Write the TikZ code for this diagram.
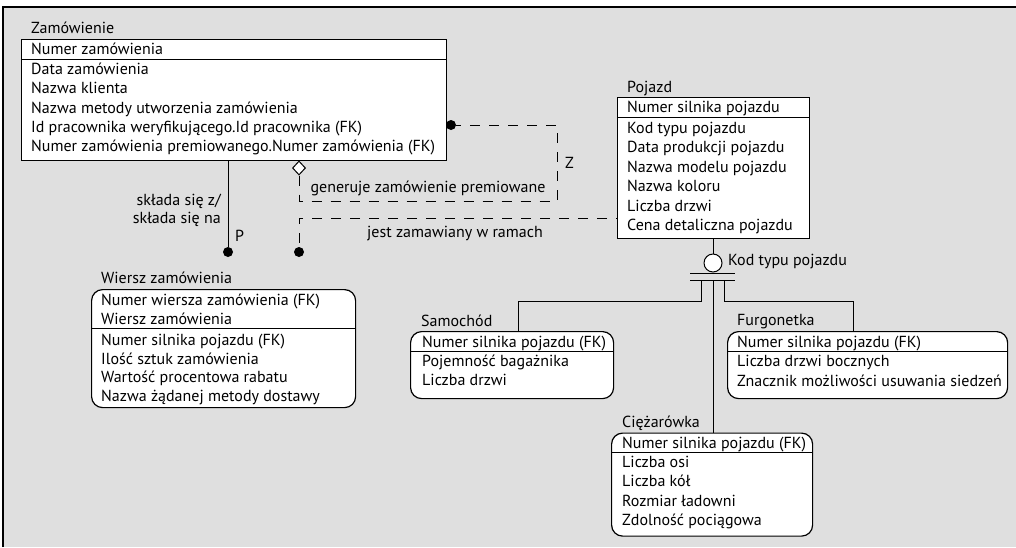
\documentclass[tikz,border=0pt]{standalone}
\usepackage{fontspec}
\setmainfont{PT Sans}
\usetikzlibrary{shapes.geometric}
\definecolor{bg}{RGB}{223,223,223}
\newcommand\erfont{\fontsize{16}{19}\selectfont}
\begin{document}
\begin{tikzpicture}[x=1pt,y=-1pt,
  txt/.style={anchor=base west, inner sep=0pt, font=\erfont},
  lbl/.style={inner sep=0pt, font=\erfont},
  entity/.style={draw, line width=1.2pt, fill=white, anchor=north west, inner sep=0pt},
  rentity/.style={entity, rounded corners=11pt},
  sepline/.style={line width=1pt},
  conn/.style={line width=1pt},
  dconn/.style={line width=1pt, dash pattern=on 10pt off 9pt},
  dot/.style={circle, fill=black, inner sep=0pt, minimum size=10pt}
]
\useasboundingbox (0,0) rectangle (1016,547);
% frame
\fill[bg] (3,7) rectangle (1016,547);
\draw[line width=1.5pt] (3,547) -- (3,7) -- (1016,7);

% ---------- Zamowienie
\node[txt] (zamT) at (31,33.5) {Zamówienie};
\node[entity, minimum width=425pt, minimum height=121pt] (zam) at (21,39) {};
\draw[sepline] (zam.west |- 0,59) -- (zam.east |- 0,59);
\node[txt] (z1) at (31,54.5) {Numer zamówienia};
\node[txt] (z2) at (31,74) {Data zamówienia};
\node[txt] (z3) at (31,93.5) {Nazwa klienta};
\node[txt] (z4) at (31,113) {Nazwa metody utworzenia zamówienia};
\node[txt] (z5) at (31,132.5) {Id pracownika weryfikującego.Id pracownika (FK)};
\node[txt] (z6) at (31,151.5) {Numer zamówienia premiowanego.Numer zamówienia (FK)};

% ---------- Pojazd
\node[txt] (pojT) at (627,92) {Pojazd};
\node[entity, minimum width=192pt, minimum height=141pt] (poj) at (617,97) {};
\draw[sepline] (poj.west |- 0,117) -- (poj.east |- 0,117);
\node[txt] (p1) at (627,112.5) {Numer silnika pojazdu};
\node[txt] (p2) at (627,133.3) {Kod typu pojazdu};
\node[txt] (p3) at (627,152.7) {Data produkcji pojazdu};
\node[txt] (p4) at (627,172.3) {Nazwa modelu pojazdu};
\node[txt] (p5) at (627,191.7) {Nazwa koloru};
\node[txt] (p6) at (627,211) {Liczba drzwi};
\node[txt] (p7) at (627,230.7) {Cena detaliczna pojazdu};

% ---------- Wiersz zamowienia
\node[txt] (wT) at (101,283) {Wiersz zamówienia};
\node[rentity, minimum width=264pt, minimum height=118pt] (wie) at (91,289) {};
\draw[sepline] (wie.west |- 0,328) -- (wie.east |- 0,328);
\node[txt] (w1) at (101,305.7) {Numer wiersza zamówienia (FK)};
\node[txt] (w2) at (101,324.3) {Wiersz zamówienia};
\node[txt] (w3) at (101,345) {Numer silnika pojazdu (FK)};
\node[txt] (w4) at (101,364) {Ilość sztuk zamówienia};
\node[txt] (w5) at (101,382.7) {Wartość procentowa rabatu};
\node[txt] (w6) at (101,401.7) {Nazwa żądanej metody dostawy};

% ---------- Samochod
\node[txt] (sT) at (421,326) {Samochód};
\node[rentity, minimum width=203pt, minimum height=67pt] (sam) at (410,331) {};
\draw[sepline] (sam.west |- 0,351) -- (sam.east |- 0,351);
\node[txt] (s1) at (422,347) {Numer silnika pojazdu (FK)};
\node[txt] (s2) at (422,366.7) {Pojemność bagażnika};
\node[txt] (s3) at (422,385) {Liczba drzwi};

% ---------- Furgonetka
\node[txt] (fT) at (737,325.7) {Furgonetka};
\node[rentity, minimum width=280pt, minimum height=67pt] (fur) at (727,331) {};
\draw[sepline] (fur.west |- 0,351.5) -- (fur.east |- 0,351.5);
\node[txt] (f1) at (737,347.3) {Numer silnika pojazdu (FK)};
\node[txt] (f2) at (737,366.7) {Liczba drzwi bocznych};
\node[txt] (f3) at (737,386) {Znacznik możliwości usuwania siedzeń};

% ---------- Ciezarowka
\node[txt] (cT) at (622,427.7) {Ciężarówka};
\node[rentity, minimum width=201pt, minimum height=103pt] (cie) at (611,432.5) {};
\draw[sepline] (cie.west |- 0,452) -- (cie.east |- 0,452);
\node[txt] (c1) at (622,448) {Numer silnika pojazdu (FK)};
\node[txt] (c2) at (622,467.5) {Liczba osi};
\node[txt] (c3) at (622,486.7) {Liczba kół};
\node[txt] (c4) at (622,506) {Rozmiar ładowni};
\node[txt] (c5) at (622,525) {Zdolność pociągowa};

% ---------- relationship: sklada sie
\node[dot] (dP) at (228,252) {};
\draw[conn] (zam.south -| dP) -- (dP);
\node[lbl, anchor=base east] (lz1) at (221,205) {składa się z/};
\node[lbl, anchor=base east] (lz2) at (221,223) {składa się na};
\node[lbl, anchor=base west] (lP) at (235,241) {P};

% ---------- relationship: generuje zamowienie premiowane
\node[diamond, draw, fill=white, inner sep=0pt, minimum width=13pt, minimum height=14pt, line width=1pt] (dia) at (299,168) {};
\node[dot] (dZ) at (451,125) {};
\coordinate (g1) at (557,201);
\draw[dconn] (dia.south) |- (g1) |- (dZ);
\node[lbl, anchor=base] (lgen) at (428,192) {generuje zamówienie premiowane};
\node[lbl, anchor=base west] (lZ) at (565,168) {Z};

% ---------- relationship: jest zamawiany w ramach
\node[dot] (dJ) at (299,252) {};
\coordinate (j1) at (poj.west |- 0,218);
\draw[dconn, dash phase=9pt] (j1) -| (dJ);
\node[lbl, anchor=base] (ljest) at (455,237) {jest zamawiany w ramach};

% ---------- subtype
\node[circle, draw, fill=white, minimum size=18pt, inner sep=0pt, line width=1pt] (circ) at (713,263) {};
\draw[conn] (poj.south -| circ) -- (circ);
\node[lbl, anchor=base west] (lkod) at (728,265) {Kod typu pojazdu};
\coordinate (bar1l) at (690,273); \coordinate (bar1r) at (735,273);
\coordinate (bar2l) at (690,280); \coordinate (bar2r) at (735,280);
\draw[conn] (bar1l) -- (bar1r);
\draw[conn] (bar2l) -- (bar2r);
\coordinate (vL) at (701,280);
\coordinate (vC) at (713,280);
\coordinate (vR) at (724,280);
\coordinate (kL) at (518,301.5);
\coordinate (kR) at (853,301.5);
\draw[conn] (vL) |- (kL) -- (kL |- sam.north);
\draw[conn] (vR) |- (kR) -- (kR |- fur.north);
\draw[conn] (vC) -- (vC |- cie.north);
\end{tikzpicture}
\end{document}
